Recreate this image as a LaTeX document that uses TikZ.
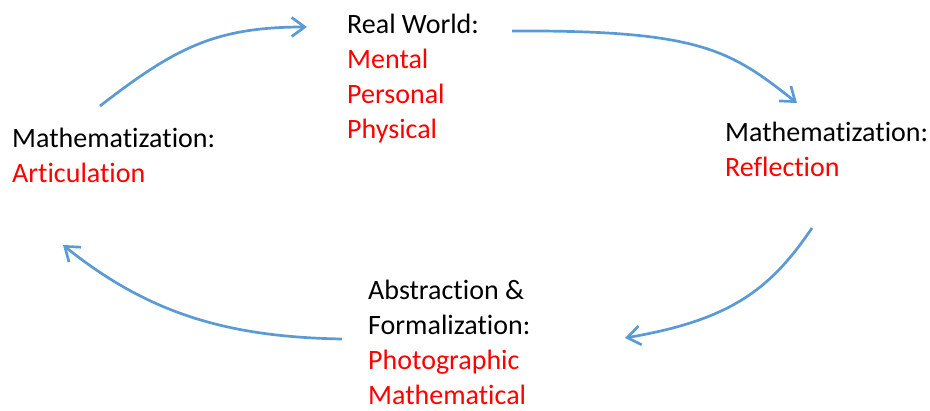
\documentclass[tikz,border=0pt]{standalone}
\usepackage{fontspec}
\setmainfont{Carlito}[Ligatures=NoCommon]
\definecolor{CycleBlue}{HTML}{5B9BD5}
\definecolor{CycleRed}{HTML}{FF0000}
\definecolor{CycleBlack}{HTML}{000000}
\usetikzlibrary{arrows.meta, positioning}
\tikzset{
    % Stage text block (anchored at the baseline of its last line)
    stage/.style={
        anchor=base west,
        inner sep=0pt,
        align=left,
        text=CycleBlack,
        font=\fontsize{28}{35}\selectfont
    },
    % Cycle arrow style
    cyclearrow/.style={
        -{Straight Barb[length=13pt, width=19pt]},
        line width=2.7pt,
        color=CycleBlue
    }
}

\begin{document}
\begin{tikzpicture}[x=1pt, y=-1pt]
        \useasboundingbox (0,0) rectangle (930,411);

        % Stages
        \node (world) [stage] at (347,139) {Real World:\\\textcolor{CycleRed}{Mental}\\\textcolor{CycleRed}{Personal}\\\textcolor{CycleRed}{Physical}};
        \node (refl) [stage] at (725,177) {Mathematization:\\\textcolor{CycleRed}{Reflection}};
        \node (abst) [stage] at (368,405) {Abstraction \&\\Formalization:\\\textcolor{CycleRed}{Photographic}\\\textcolor{CycleRed}{Mathematical}};
        \node (artic) [stage] at (12,183) {Mathematization:\\\textcolor{CycleRed}{Articulation}};

        % Arrow ends
        \coordinate (a1s) at (100,106);
        \coordinate (a1e) at (307,27);
        \coordinate (a2s) at (512,31);
        \coordinate (a2e) at (797,103);
        \coordinate (a3s) at (812,228);
        \coordinate (a3e) at (625,338);
        \coordinate (a4s) at (342,339);
        \coordinate (a4e) at (63,245);

        \draw [cyclearrow] (a1s) .. controls (175,48) and (215,27) .. (a1e);
        \draw [cyclearrow] (a2s) .. controls (700,30) and (730,50) .. (a2e);
        \draw [cyclearrow] (a3s) .. controls (770,290) and (730,320) .. (a3e);
        \draw [cyclearrow] (a4s) .. controls (230,337) and (150,315) .. (a4e);
    \end{tikzpicture}
\end{document}
